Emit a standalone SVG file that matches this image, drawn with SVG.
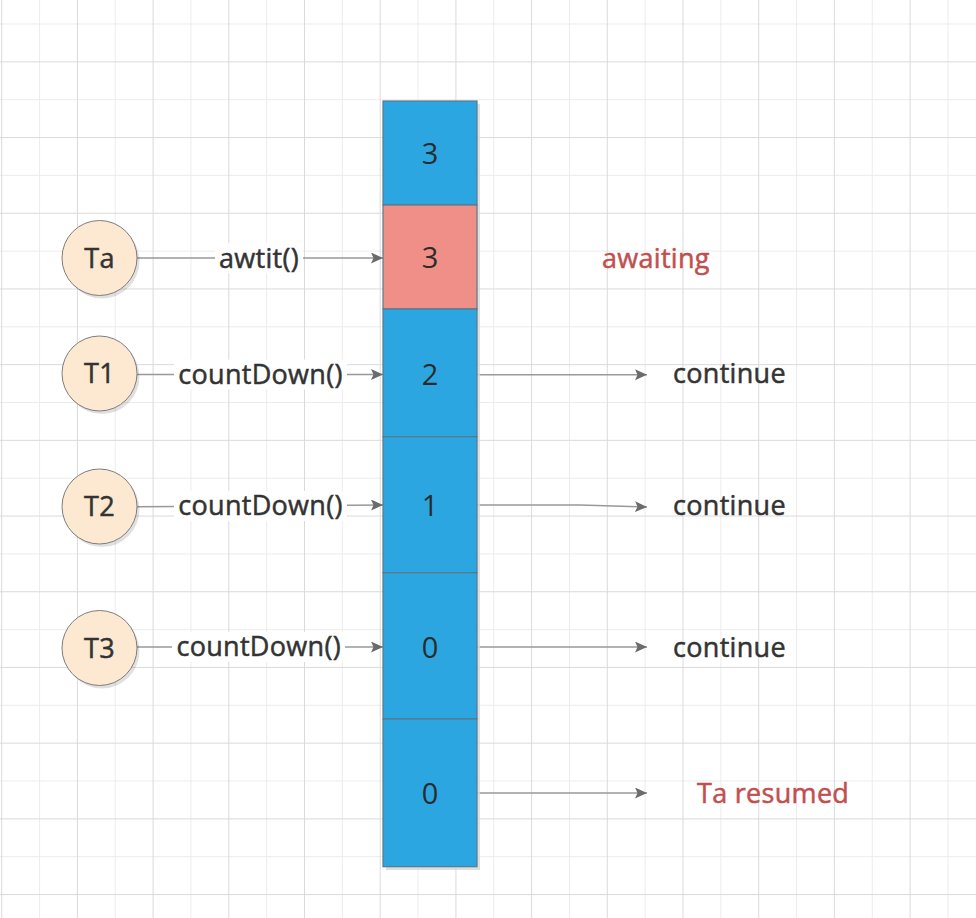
<svg xmlns="http://www.w3.org/2000/svg" width="976" height="918" viewBox="0 0 976 918">
<defs>
<pattern id="grid" patternUnits="userSpaceOnUse" x="1.2" y="61.35" width="75.7" height="75.7">
<rect x="37.85" y="0" width="1" height="75.7" fill="#ececec"/>
<rect x="0" y="37.85" width="75.7" height="1" fill="#ececec"/>
<rect x="0" y="0" width="1" height="75.7" fill="#dadada"/>
<rect x="0" y="0" width="75.7" height="1" fill="#dadada"/>
</pattern>
<marker id="arr" markerUnits="userSpaceOnUse" markerWidth="13" markerHeight="12" refX="12" refY="5.5" orient="auto">
<path d="M0,0 L12,5.5 L0,11 L2.5,5.5 Z" fill="#6b6b6b"/>
</marker>
</defs>
<style>
.lbl{font-family:"Open Sans","DejaVu Sans",sans-serif;font-size:27px;letter-spacing:0.3px;fill:#333333;stroke:#333333;stroke-width:0.5px}
.red{fill:#c24f4f;stroke:#c24f4f}
.num{font-family:"Open Sans","DejaVu Sans",sans-serif;font-size:29px;fill:#2b2b2b;text-anchor:middle}
.mid{text-anchor:middle}
.cell{stroke:#5a7889;stroke-width:1.2}
.blue{fill:#2ca6e0}
.pink{fill:#ef8f88}
.circ{fill:#fde9d2;stroke:#7d7d7d;stroke-width:1}
.shad{fill:#000000;opacity:0.12}
.conn{fill:none;stroke:#999999;stroke-width:1.5}
.lbg{fill:#ffffff}
</style>
<rect x="0" y="0" width="976" height="918" fill="#ffffff"/>
<rect x="0" y="0" width="976" height="918" fill="url(#grid)"/>

<g id="connectors">
<path class="conn" d="M137,258 L383,258" marker-end="url(#arr)"/>
<path class="conn" d="M137,374.5 L383,374.5" marker-end="url(#arr)"/>
<path class="conn" d="M137,506.7 L383,505" marker-end="url(#arr)"/>
<path class="conn" d="M137,647 L383,647" marker-end="url(#arr)"/>
<path class="conn" d="M477,374.7 L647,374.7" marker-end="url(#arr)"/>
<path class="conn" d="M477,505 L580,505 L647,507" marker-end="url(#arr)"/>
<path class="conn" d="M477,647 L647,647" marker-end="url(#arr)"/>
<path class="conn" d="M477,793 L647,793" marker-end="url(#arr)"/>
<rect class="lbg" x="215" y="243" width="88" height="30"/>
<text class="lbl mid" x="259" y="267.5">awtit()</text>
<rect class="lbg" x="174" y="359.5" width="173" height="30"/>
<text class="lbl mid" x="260.5" y="383.5">countDown()</text>
<rect class="lbg" x="174" y="491" width="173" height="30"/>
<text class="lbl mid" x="260.5" y="515">countDown()</text>
<rect class="lbg" x="172" y="632" width="173" height="30"/>
<text class="lbl mid" x="258.7" y="656">countDown()</text>
</g>

<g id="column">
<rect x="386" y="104" width="94" height="766" fill="#d6d6d6" opacity="0.8"/>
<g id="cell-1"><rect class="cell blue" x="383" y="101" width="94" height="104"/><text class="num" x="430" y="163.5">3</text></g>
<g id="cell-2"><rect class="cell pink" x="383" y="205" width="94" height="104"/><text class="num" x="430" y="267.5">3</text></g>
<g id="cell-3"><rect class="cell blue" x="383" y="309" width="94" height="127.7"/><text class="num" x="430" y="385">2</text></g>
<g id="cell-4"><rect class="cell blue" x="383" y="436.7" width="94" height="136"/><text class="num" x="430" y="515.5">1</text></g>
<g id="cell-5"><rect class="cell blue" x="383" y="572.7" width="94" height="146.3"/><text class="num" x="430" y="658">0</text></g>
<g id="cell-6"><rect class="cell blue" x="383" y="719" width="94" height="147.7"/><text class="num" x="430" y="803.5">0</text></g>
</g>

<g id="node-Ta"><circle class="shad" cx="102" cy="261" r="37.5"/><circle class="circ" cx="99.5" cy="258" r="37.5"/><text class="lbl mid" x="99.5" y="267.5">Ta</text></g>
<g id="node-T1"><circle class="shad" cx="102" cy="376.5" r="37.5"/><circle class="circ" cx="99.5" cy="373.5" r="37.5"/><text class="lbl mid" x="99.5" y="383">T1</text></g>
<g id="node-T2"><circle class="shad" cx="102" cy="509.5" r="37.5"/><circle class="circ" cx="99.5" cy="506.5" r="37.5"/><text class="lbl mid" x="99.5" y="516">T2</text></g>
<g id="node-T3"><circle class="shad" cx="102" cy="651" r="37.5"/><circle class="circ" cx="99.5" cy="648" r="37.5"/><text class="lbl mid" x="99.5" y="657.5">T3</text></g>

<g id="node-awaiting"><text class="lbl red" x="602" y="268">awaiting</text></g>
<g id="node-continue-1"><text class="lbl" x="673" y="383">continue</text></g>
<g id="node-continue-2"><text class="lbl" x="673" y="515">continue</text></g>
<g id="node-continue-3"><text class="lbl" x="673" y="657">continue</text></g>
<g id="node-resumed"><text class="lbl red" x="697" y="803">Ta resumed</text></g>
</svg>
